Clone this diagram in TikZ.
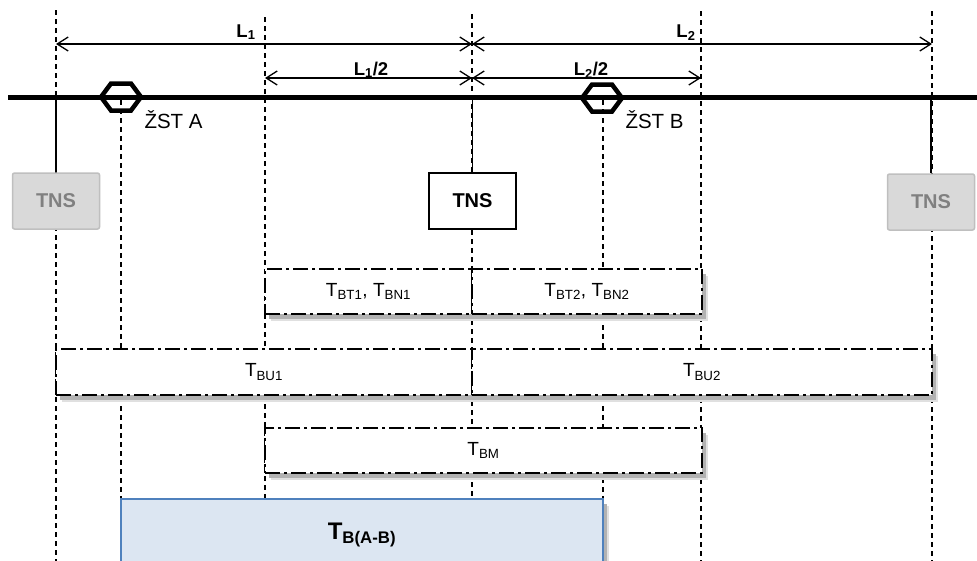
\documentclass[tikz,border=0pt]{standalone}
\usepackage{fontspec}
\setmainfont{Liberation Sans}
\usetikzlibrary{arrows.meta,shadows}

\definecolor{tnsfill}{HTML}{D9D9D9}
\definecolor{tnsline}{HTML}{BFBFBF}
\definecolor{tnstext}{HTML}{808080}
\definecolor{sectfill}{HTML}{DCE6F2}
\definecolor{sectline}{HTML}{4F81BD}

\tikzset{
  guide/.style={dash pattern=on 5pt off 4pt, line width=1.1pt},
  dim/.style={{Straight Barb[length=11pt,width=14pt]}-{Straight Barb[length=11pt,width=14pt]}, line width=1.3pt},
  track/.style={line width=5pt},
  feeder/.style={line width=1.2pt},
  station/.style={line width=4.5pt, line join=miter},
  stlabel/.style={font=\fontsize{20.5}{24}\selectfont},
  dimlabel/.style={font=\fontsize{18.5}{22}\selectfont\bfseries},
  tns/.style={draw, line width=1.5pt, fill=white, minimum width=87, minimum height=56,
    font=\fontsize{20}{24}\selectfont\bfseries},
  tnsoff/.style={tns, draw=tnsline, fill=tnsfill, text=tnstext, rounded corners=2pt},
  boxshadow/.style={drop shadow={shadow xshift=6pt, shadow yshift=-7pt, fill=black!12, opacity=1},
    drop shadow={shadow xshift=4pt, shadow yshift=-4.5pt, fill=black!30, opacity=1}},
  zone/.style={draw, fill=white, line width=2.2pt, dash pattern=on 15pt off 4pt on 3pt off 4pt,
    boxshadow, font=\fontsize{19}{22}\selectfont},
  section/.style={draw=sectline, fill=sectfill, line width=1.5pt, boxshadow,
    font=\fontsize{24}{28}\selectfont\bfseries}
}

\begin{document}
\begin{tikzpicture}[x=1pt, y=-1pt]
    \clip (0,0) rectangle (977,560);
    % columns
    \coordinate (gL) at (56,10);
    \coordinate (gA) at (121,100);
    \coordinate (gH1) at (265,17);
    \coordinate (gM) at (472,14);
    \coordinate (gB) at (603,100);
    \coordinate (gH2) at (701,11);
    \coordinate (gR) at (932,11);
    \draw[guide] (gL) -- ++(0,560);
    \draw[guide] (gA) -- ++(0,399);
    \draw[guide] (gH1) -- ++(0,560);
    \draw[guide] (gM) -- ++(0,560);
    \draw[guide] (gB) -- ++(0,399);
    \draw[guide] (gH2) -- ++(0,560);
    \draw[guide] (gR) -- ++(0,560);

    % dimensions
    \coordinate (a1) at (56,44);
    \coordinate (a2) at (472,44);
    \coordinate (a3) at (932,44);
    \coordinate (b1) at (265,78);
    \coordinate (b2) at (472,78);
    \coordinate (b3) at (701,78);
    \draw[dim] (a1) -- (a2);
    \draw[dim] (a2) -- (a3);
    \draw[dim] (b1) -- (b2);
    \draw[dim] (b2) -- (b3);
    \node[dimlabel, anchor=base east] (lenA) at (259,37) {L\textsubscript{1}};
    \node[dimlabel, anchor=base east] (lenB) at (699,37) {L\textsubscript{2}};
    \node[dimlabel, anchor=base] (halfA) at (371,75) {L\textsubscript{1}/2};
    \node[dimlabel, anchor=base] (halfB) at (591,75) {L\textsubscript{2}/2};

    % track and stations
    \coordinate (trL) at (8,97);
    \coordinate (trR) at (977,97);
    \draw[track] (trL) -- (trR);
    \coordinate (stA) at (121,97);
    \coordinate (stB) at (602,98);
    \draw[station, shift={(stA)}] (-20,0) -- (-10,-13.5) -- (10,-13.5) -- (20,0) -- (10,13.5) -- (-10,13.5) -- cycle;
    \draw[station, shift={(stB)}] (-20,0) -- (-10,-13.5) -- (10,-13.5) -- (20,0) -- (10,13.5) -- (-10,13.5) -- cycle;
    \node[stlabel, anchor=base west] (lblA) at (141,128) {ŽST A};
    \node[stlabel, anchor=base west] (lblB) at (622,128) {ŽST B};

    % substations
    \node[tnsoff] (tnsL) at (56,201) {TNS};
    \node[tns] (tnsM) at (472.5,201) {TNS};
    \node[tnsoff] (tnsR) at (931,202) {TNS};
    \draw[feeder] (tnsL.north) -- (tnsL.north |- trL);
    \draw[feeder] (tnsM.north) -- (tnsM.north |- trL);
    \draw[feeder] (tnsR.north) -- (tnsR.north |- trL);

    % zones
    \node[zone, minimum width=207, minimum height=45] (tbt1) at (368.5,291.5) {T\textsubscript{BT1}, T\textsubscript{BN1}};
    \node[zone, minimum width=230, minimum height=45] (tbt2) at (587,291.5) {T\textsubscript{BT2}, T\textsubscript{BN2}};
    \node[zone, minimum width=416, minimum height=46] (tbu1) at (264,372) {T\textsubscript{BU1}};
    \node[zone, minimum width=460, minimum height=46] (tbu2) at (702,372) {T\textsubscript{BU2}};
    \node[zone, minimum width=437, minimum height=45] (tbm) at (483.5,450.5) {T\textsubscript{BM}};
    \node[section, minimum width=482, minimum height=72] (tbab) at (362,535) {T\textsubscript{B(A-B)}};
\end{tikzpicture}
\end{document}
